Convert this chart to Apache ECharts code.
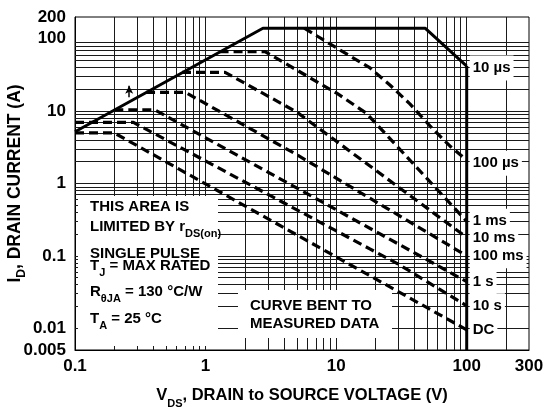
<!DOCTYPE html>
<html><head><meta charset="utf-8">
<script src="https://cdn.jsdelivr.net/npm/echarts@6/dist/echarts.min.js"></script>
<style>html,body{margin:0;padding:0;background:#fff}#c{width:544px;height:408px}</style>
</head><body><div id="c"></div>
<script>
// ---- data (V, A) ----
const xTicks = [0.1, 1, 10, 100, 300];
const yTicks = [0.005, 0.01, 0.1, 1, 10, 100, 200];
const boundary10us = [[0.1, 5.2], [2.75, 140], [48, 140], [100, 42]];
const boundaryDrop = [[100, 42], [100, 0.005]];
const curve100us = [[5.7, 140], [10.7, 70], [18.2, 39.5], [25.8, 23], [36.7, 12.6], [52.3, 6.25], [74.3, 3.3], [100, 2.1]];
const curve1ms = [[1.28, 66.4], [2.85, 66.4], [10.1, 17.7], [17, 9.4], [100, 0.3]];
const curve10ms = [[0.66, 34.4], [1.41, 34.4], [5, 9.7], [100, 0.18]];
const curve100ms = [[0.35, 18.2], [0.7, 18.2], [5, 2.5], [100, 0.1]];
const curve1s = [[0.2, 10.4], [0.41, 10.4], [100, 0.044]];
const curve10s = [[0.1, 7], [0.28, 7], [18.1, 0.125], [29.9, 0.077], [100, 0.0204]];
const curveDC = [[0.1, 5], [0.2, 5], [100, 0.0095]];
const dashedCurves = [curve100us, curve1ms, curve10ms, curve100ms, curve1s, curve10s, curveDC];
const curveNames = ['100 µs', '1 ms', '10 ms', '100 ms', '1 s', '10 s', 'DC'];
const arrowLine = [[0.26, 15.5], [0.26, 22.5]];
const xDecades = [0.1, 1, 10, 100];
const yDecades = [0.001, 0.01, 0.1, 1, 10];

const FONT = '"Liberation Sans", Arial, Helvetica, sans-serif';
const fmt = v => String(+Number(v).toPrecision(6));
const near = (list, v) => list.some(t => Math.abs(t - v) / t < 1e-6);

// log grid lines (1..9 per decade)
const xGrid = [], yGrid = [];
xDecades.forEach(d => { for (let k = 1; k <= 9; k++) { const v = +(k * d).toPrecision(6); if (v > 0.1 && v < 300) xGrid.push(v); } });
yDecades.forEach(d => { for (let k = 1; k <= 9; k++) { const v = +(k * d).toPrecision(6); if (v > 0.005 && v <= 100) yGrid.push(v); } });

const endLbl = (txt, off) => ({
  show: true, formatter: () => txt, distance: 3, offset: off || [0, 0],
  color: '#000', fontFamily: FONT, fontWeight: 'bold', fontSize: 15,
  backgroundColor: '#fff', padding: [5, 3, 5, 3]
});

const series = [];
series.push({
  type: 'line', data: [], silent: true, z: 1, animation: false,
  markLine: {
    silent: true, z: 1, animation: false, symbol: ['none', 'none'], label: { show: false },
    lineStyle: { color: '#1a1a1a', width: 1, type: 'solid' }, emphasis: { disabled: true },
    data: xGrid.map(v => ({ xAxis: v })).concat(yGrid.map(v => ({ yAxis: v })))
  }
});
series.push({
  type: 'line', name: '10 µs', data: boundary10us, symbol: 'none', z: 10, silent: true, animation: false,
  lineStyle: { color: '#000', width: 3, type: 'solid' }, endLabel: endLbl('10 µs', [0, 2])
});
series.push({
  type: 'line', data: boundaryDrop, symbol: 'none', z: 10, silent: true, animation: false,
  lineStyle: { color: '#000', width: 3, type: 'solid' }
});
dashedCurves.forEach((c, i) => {
  series.push({
    type: 'line', name: curveNames[i], data: c, symbol: 'none', z: 10, silent: true, animation: false,
    lineStyle: { color: '#000', width: 3.2, type: [9, 5], cap: 'butt' },
    endLabel: endLbl(curveNames[i], i === 0 ? [0, 3] : [0, 0])
  });
});
series.push({
  type: 'line', data: [], silent: true, z: 10, animation: false,
  markLine: {
    silent: true, z: 10, animation: false, symbol: ['none', 'arrow'], symbolSize: [6, 8], label: { show: false },
    lineStyle: { color: '#000', width: 1.5, type: 'solid' },
    data: [[{ coord: arrowLine[0] }, { coord: arrowLine[1] }]]
  }
});

const sub = { fontFamily: FONT, fontWeight: 'bold', fontSize: 11, lineHeight: 11, verticalAlign: 'bottom' };
const main15 = { fontFamily: FONT, fontWeight: 'bold', fontSize: 15, lineHeight: 20, verticalAlign: 'top' };
const txt = (x, y, text, rich) => ({
  type: 'text', x: x, y: y, z: 20, silent: true,
  style: { text: text, fill: '#000', fontFamily: FONT, fontWeight: 'bold', fontSize: 15, verticalAlign: 'middle', align: 'left', rich: rich }
});
const richTxt = { b: main15, s: sub };

const option = {
  animation: false,
  backgroundColor: '#fff',
  grid: { left: 75, right: 15, top: 17, bottom: 58, show: true, borderColor: '#000', borderWidth: 1, backgroundColor: 'transparent', outerBoundsMode: 'none' },
  xAxis: {
    type: 'log', logBase: 10, min: 0.1, max: 300,
    axisLine: { show: true, lineStyle: { color: '#000', width: 1 } },
    axisTick: { show: false }, splitLine: { show: false }, minorTick: { show: false }, minorSplitLine: { show: false },
    axisLabel: { color: '#000', fontFamily: FONT, fontWeight: 'bold', fontSize: 17, margin: 8, showMinLabel: true, showMaxLabel: true,
      formatter: v => near(xTicks, v) ? fmt(v) : '' },
    name: '{b|V}{s|DS}{b|, DRAIN to SOURCE VOLTAGE (V)}', nameLocation: 'middle', nameGap: 37, nameMoveOverlap: false,
    nameTextStyle: { color: '#000', rich: {
      b: { fontFamily: FONT, fontWeight: 'bold', fontSize: 16.5, lineHeight: 22, verticalAlign: 'top', color: '#000' },
      s: { fontFamily: FONT, fontWeight: 'bold', fontSize: 11, lineHeight: 11, verticalAlign: 'bottom', color: '#000' } } }
  },
  yAxis: {
    type: 'log', logBase: 10, min: 0.005, max: 200,
    axisLine: { show: true, lineStyle: { color: '#000', width: 1 } },
    axisTick: { show: false }, splitLine: { show: false }, minorTick: { show: false }, minorSplitLine: { show: false },
    axisLabel: { color: '#000', fontFamily: FONT, fontWeight: 'bold', fontSize: 17, margin: 9, showMinLabel: true, showMaxLabel: true,
      formatter: v => near(yTicks, v) ? fmt(v) : '' },
    name: '{b|I}{s|D}{b|, DRAIN CURRENT (A)}', nameLocation: 'middle', nameGap: 47, nameMoveOverlap: false,
    nameTextStyle: { color: '#000', rich: {
      b: { fontFamily: FONT, fontWeight: 'bold', fontSize: 17.5, lineHeight: 22, verticalAlign: 'top', color: '#000' },
      s: { fontFamily: FONT, fontWeight: 'bold', fontSize: 12, lineHeight: 12, verticalAlign: 'bottom', color: '#000' } } }
  },
  graphic: [
    { type: 'rect', z: 3, silent: true, shape: { x: 78, y: 196, width: 140, height: 150 }, style: { fill: '#fff' } },
    { type: 'rect', z: 3, silent: true, shape: { x: 238, y: 290, width: 154, height: 48 }, style: { fill: '#fff' } },
    txt(90, 207, 'THIS AREA IS'),
    txt(90, 229.5, '{b|LIMITED BY r}{s|DS(on)}', richTxt),
    txt(90, 254, 'SINGLE PULSE'),
    txt(90, 268.5, '{b|T}{s|J}{b| = MAX RATED}', richTxt),
    txt(90, 294, '{b|R}{s|θJA}{b| = 130 °C/W}', richTxt),
    txt(90, 321, '{b|T}{s|A}{b| = 25 °C}', richTxt),
    txt(250, 306, 'CURVE BENT TO'),
    txt(250, 324, 'MEASURED DATA')
  ],
  series: series
};
const chart = echarts.init(document.getElementById('c'), null, { renderer: 'canvas' });
chart.setOption(option);
</script></body></html>
